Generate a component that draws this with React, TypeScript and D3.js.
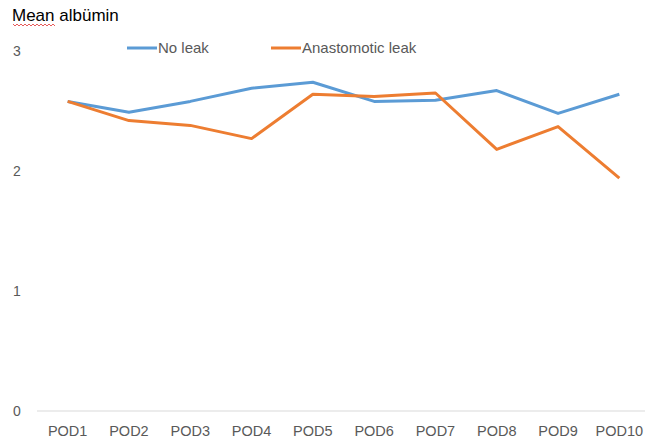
import * as d3 from "d3";
import { useEffect, useRef } from "react";

// ---- data ----
const days = ["POD1", "POD2", "POD3", "POD4", "POD5", "POD6", "POD7", "POD8", "POD9", "POD10"];
const noLeak = [2.58, 2.49, 2.58, 2.69, 2.74, 2.58, 2.59, 2.67, 2.48, 2.64];
const leak = [2.58, 2.42, 2.38, 2.27, 2.64, 2.62, 2.65, 2.18, 2.37, 1.94];
const yTicks = [0, 1, 2, 3];
const seriesNames = ["No leak", "Anastomotic leak"];
const seriesColors = ["#5b9bd5", "#ed7d31"];

export default function App() {
  const ref = useRef<SVGSVGElement>(null);

  useEffect(() => {
    const svg = d3.select(ref.current);
    svg.selectAll("*").remove();

    const X = d3.scaleBand().domain(days).range([37, 650]);
    const Y = d3.scaleLinear().domain([0, 3]).range([411, 51]);
    const font = "'Liberation Sans', Arial, sans-serif";

    // title
    svg.append("text").text("Mean albümin")
      .attr("x", 12).attr("y", 21)
      .attr("font-family", font).attr("font-size", 17).attr("fill", "#000");
    // spellcheck squiggle under "Mean"
    svg.append("path")
      .attr("d", d3.range(13, 57, 2).map((x, i) => `${i ? "L" : "M"}${x},${i % 2 ? 26 : 24}`).join(" "))
      .attr("fill", "none").attr("stroke", "#e03030").attr("stroke-width", 0.8);

    // baseline
    svg.append("line")
      .attr("x1", 37).attr("x2", 645)
      .attr("y1", Y(0)).attr("y2", Y(0))
      .attr("stroke", "#d9d9d9").attr("stroke-width", 1);

    // y labels
    svg.selectAll(".yl").data(yTicks).join("text")
      .attr("class", "yl")
      .attr("x", 17).attr("y", (d) => Y(d) + 5)
      .attr("text-anchor", "middle")
      .attr("font-family", font).attr("font-size", 14).attr("fill", "#595959")
      .text((d) => d);

    // x labels
    svg.selectAll(".xl").data(days).join("text")
      .attr("class", "xl")
      .attr("x", (d) => X(d)! + X.bandwidth() / 2).attr("y", 436)
      .attr("text-anchor", "middle")
      .attr("font-family", font).attr("font-size", 14.5).attr("fill", "#595959")
      .text((d) => d);

    const line = d3.line<number>()
      .x((_, i) => X(days[i])! + X.bandwidth() / 2)
      .y((d) => Y(d));

    [noLeak, leak].forEach((s, i) => {
      svg.append("path").datum(s)
        .attr("d", line)
        .attr("fill", "none")
        .attr("stroke", seriesColors[i])
        .attr("stroke-width", 3)
        .attr("stroke-linejoin", "round");
    });

    // legend
    const lx = [127, 271];
    seriesNames.forEach((n, i) => {
      svg.append("line")
        .attr("x1", lx[i]).attr("x2", lx[i] + 30)
        .attr("y1", 48).attr("y2", 48)
        .attr("stroke", seriesColors[i]).attr("stroke-width", 3);
      svg.append("text").text(n)
        .attr("x", lx[i] + 31).attr("y", 53)
        .attr("font-family", font).attr("font-size", 15).attr("fill", "#595959");
    });
  }, []);

  return (
    <svg ref={ref} width={647} height={443}
      style={{ position: "absolute", left: 0, top: 0, background: "#fff" }} />
  );
}
